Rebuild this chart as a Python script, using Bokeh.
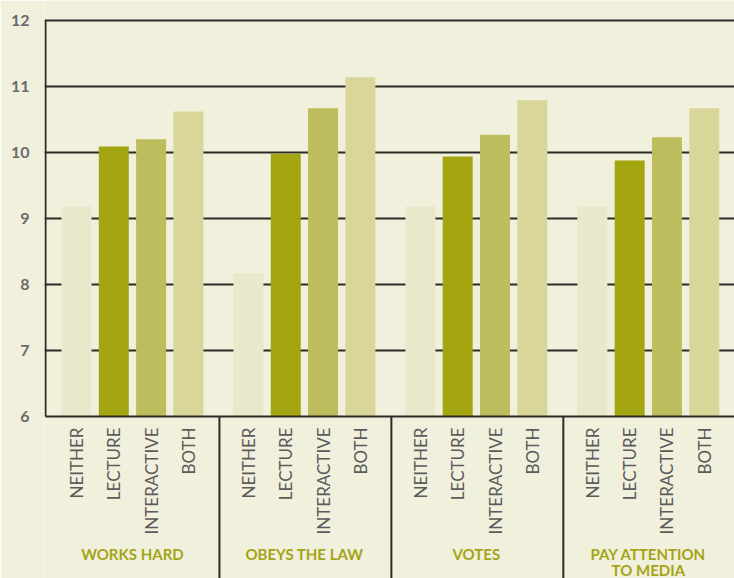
import math
from bokeh.plotting import figure
from bokeh.models import ColumnDataSource, LinearAxis, FixedTicker, Range1d
from bokeh.core.properties import value
from bokeh.embed import file_html
from bokeh.resources import INLINE

# ---- data ----
groups = ["WORKS HARD", "OBEYS THE LAW", "VOTES", "PAY ATTENTION\nTO MEDIA"]
methods = ["NEITHER", "LECTURE", "INTERACTIVE", "BOTH"]
neither = [9.18, 8.17, 9.18, 9.18]
lecture = [10.09, 9.98, 9.94, 9.88]
interactive = [10.2, 10.67, 10.27, 10.23]
both = [10.62, 11.14, 10.79, 10.67]
y_ticks = [6, 7, 8, 9, 10, 11, 12]

series = [neither, lecture, interactive, both]
colors = ["#e8e8cb", "#a3a511", "#bebd5d", "#d8d799"]

BG = "#f1f0dd"
LINE = "#2e2b27"
GROUP_STEP = 4.61
BAR_W = 0.804
BASE = 6

PX_X = 37.3
PX_Y = 66
X0 = -32 / PX_X
X1 = X0 + 690 / PX_X
Y1 = 12 + 20 / PX_Y
Y0 = Y1 - 578 / PX_Y

p = figure(width=734, height=578, output_backend="svg", toolbar_location=None,
           x_range=Range1d(X0, X1), y_range=Range1d(Y0, Y1),
           min_border_left=44, min_border_right=0, min_border_top=0, min_border_bottom=0,
           background_fill_color=BG, border_fill_color=BG, outline_line_color=None)
p.xaxis.visible = False
p.yaxis.visible = False
p.xgrid.visible = False
p.ygrid.visible = False

# y axis labels
yax = LinearAxis(ticker=FixedTicker(ticks=y_ticks))
yax.axis_line_color = None
yax.major_tick_line_color = None
yax.minor_tick_line_color = None
yax.major_tick_out = 0
yax.major_tick_in = 0
yax.major_label_standoff = 15
yax.major_label_text_font = "Lato"
yax.major_label_text_font_style = "bold"
yax.major_label_text_font_size = "16px"
yax.major_label_text_color = "#6a6a6a"
p.add_layout(yax, "left")

# gridlines (behind bars)
grid_y = [t for t in y_ticks if t > BASE]
p.segment(x0=[X0] * len(grid_y), x1=[X1] * len(grid_y), y0=grid_y, y1=grid_y,
          line_color=LINE, line_width=2)

# bars
xs_all, labels_all = [], []
for j, (vals, col) in enumerate(zip(series, colors)):
    xs = [g * GROUP_STEP + j for g in range(len(groups))]
    src = ColumnDataSource(dict(x=xs, top=vals))
    p.vbar(x="x", top="top", bottom=BASE, width=BAR_W, source=src,
           fill_color=col, line_color=None)
    xs_all += xs
    labels_all += [methods[j]] * len(xs)

# baseline & left axis line
x_left = X0 + 1 / PX_X
p.segment(x0=[x_left], x1=[X1], y0=[BASE], y1=[BASE], line_color=LINE, line_width=2)
p.segment(x0=[x_left], x1=[x_left], y0=[BASE], y1=[max(y_ticks)], line_color=LINE, line_width=2)

# group separators
seps = [g * GROUP_STEP - (GROUP_STEP - 3) / 2 + 1 / PX_X for g in range(1, len(groups))]
p.segment(x0=seps, x1=seps, y0=[BASE] * len(seps), y1=[Y0] * len(seps),
          line_color=LINE, line_width=2)

# category labels (rotated)
p.text(x=xs_all, y=[BASE - 11 / PX_Y] * len(xs_all), text=labels_all, angle=math.pi / 2,
       text_align="right", text_baseline="middle", text_font=value("Lato"),
       text_font_size="17px", text_color="#5b5b5b")

# group labels
gx, gy, gt = [], [], []
for g, name in enumerate(groups):
    for k, line in enumerate(name.split("\n")):
        gx.append(g * GROUP_STEP + 1.5)
        gy.append(BASE - (137 + 16 * k) / PX_Y)
        gt.append(line)
p.text(x=gx, y=gy, text=gt, text_align="center", text_baseline="middle",
       text_font=value("Lato"), text_font_style="bold", text_font_size="15px",
       text_color="#a3a516")

open("out.html", "w").write(file_html(p, INLINE))
